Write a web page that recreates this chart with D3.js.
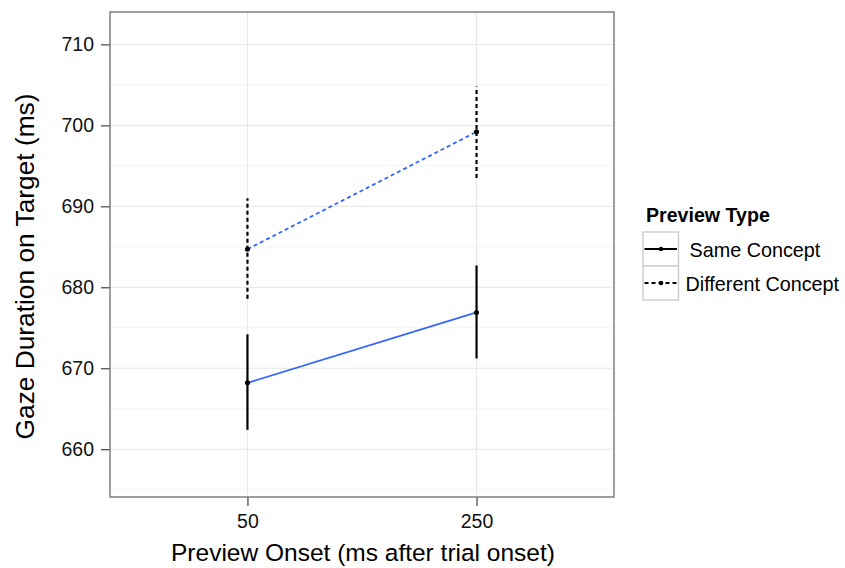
<!DOCTYPE html>
<html>
<head>
<meta charset="utf-8">
<script src="https://cdn.jsdelivr.net/npm/d3@7"></script>
<style>
  body { margin: 0; background: #fff; }
  text { font-family: "Liberation Sans", Arial, sans-serif; }
</style>
</head>
<body>
<div id="chart"></div>
<script>
// values
var onsets = ["50", "250"];
var previewTypes = ["Same Concept", "Different Concept"];
var sameMeans = [668.2, 676.9];
var sameLo = [662.4, 671.2];
var sameHi = [674.2, 682.7];
var diffMeans = [684.7, 699.2];
var diffLo = [678.6, 693.5];
var diffHi = [691.0, 704.8];
var yTicks = [660, 670, 680, 690, 700, 710];
var yMinor = [655, 665, 675, 685, 695, 705];

var series = [
  { name: previewTypes[0], means: sameMeans, lo: sameLo, hi: sameHi, dash: null },
  { name: previewTypes[1], means: diffMeans, lo: diffLo, hi: diffHi, dash: "4,3" }
];

var W = 845, H = 568,
    margin = { top: 12, left: 110, right: 231, bottom: 71 },
    width = W - margin.left - margin.right,
    height = H - margin.top - margin.bottom;

var svg = d3.select("#chart").append("svg")
  .attr("width", W)
  .attr("height", H);

var g = svg.append("g")
  .attr("transform", "translate(" + margin.left + "," + margin.top + ")");

// discrete x like ggplot: 0.6 of a step added either side
var xScale = d3.scalePoint()
  .domain(onsets)
  .range([width * 0.6 / 2.2, width * 1.6 / 2.2]);

var yScale = d3.scaleLinear()
  .domain([654.1, 714])
  .range([height, 0]);

// grid
g.selectAll(".minor")
  .data(yMinor)
  .enter().append("line")
  .attr("x1", 0).attr("x2", width)
  .attr("y1", d => yScale(d)).attr("y2", d => yScale(d))
  .attr("stroke", "#f4f4f4").attr("stroke-width", 1);

g.selectAll(".major")
  .data(yTicks)
  .enter().append("line")
  .attr("x1", 0).attr("x2", width)
  .attr("y1", d => yScale(d)).attr("y2", d => yScale(d))
  .attr("stroke", "#e6e6e6").attr("stroke-width", 1);

g.selectAll(".vmajor")
  .data(onsets)
  .enter().append("line")
  .attr("x1", d => xScale(d)).attr("x2", d => xScale(d))
  .attr("y1", 0).attr("y2", height)
  .attr("stroke", "#e6e6e6").attr("stroke-width", 1);

// axes
var yAxis = g.append("g")
  .call(d3.axisLeft(yScale).tickValues(yTicks).tickSize(9).tickPadding(7))
  .call(a => a.select(".domain").remove());
yAxis.selectAll("line").attr("stroke", "#333").attr("stroke-width", 1.1);
yAxis.selectAll("text").attr("font-size", 19.5).attr("fill", "#111")
  .style("font-family", "Liberation Sans, Arial, sans-serif");

var xAxis = g.append("g")
  .attr("transform", "translate(0," + height + ")")
  .call(d3.axisBottom(xScale).tickSize(9).tickPadding(8))
  .call(a => a.select(".domain").remove());
xAxis.selectAll("line").attr("stroke", "#333").attr("stroke-width", 1.1);
xAxis.selectAll("text").attr("font-size", 19.5).attr("fill", "#111")
  .style("font-family", "Liberation Sans, Arial, sans-serif");

// lines between means
var line = d3.line()
  .x((d, i) => xScale(onsets[i]))
  .y(d => yScale(d));

series.forEach(function(s) {
  g.append("path")
    .datum(s.means)
    .attr("d", line)
    .attr("fill", "none")
    .attr("stroke", "#3366FF")
    .attr("stroke-width", 1.8)
    .attr("stroke-dasharray", s.dash);

  g.selectAll(null)
    .data(onsets)
    .enter().append("line")
    .attr("x1", d => xScale(d)).attr("x2", d => xScale(d))
    .attr("y1", (d, i) => yScale(s.lo[i]))
    .attr("y2", (d, i) => yScale(s.hi[i]))
    .attr("stroke", "black")
    .attr("stroke-width", 2.2)
    .attr("stroke-dasharray", s.dash);

  g.selectAll(null)
    .data(onsets)
    .enter().append("circle")
    .attr("cx", d => xScale(d))
    .attr("cy", (d, i) => yScale(s.means[i]))
    .attr("r", 2.5)
    .attr("fill", "black");
});

// panel border
g.append("rect")
  .attr("width", width).attr("height", height)
  .attr("fill", "none")
  .attr("stroke", "#7f7f7f").attr("stroke-width", 1.5);

// axis titles
svg.append("text")
  .attr("x", 363)
  .attr("y", 561)
  .attr("text-anchor", "middle")
  .attr("font-size", 24.5)
  .text("Preview Onset (ms after trial onset)");

svg.append("text")
  .attr("transform", "translate(33.5,266.5) rotate(-90)")
  .attr("text-anchor", "middle")
  .attr("font-size", 26.3)
  .text("Gaze Duration on Target (ms)");

// legend
var legend = svg.append("g").attr("transform", "translate(643,232)");
legend.append("text")
  .attr("x", 3).attr("y", -10.5)
  .attr("font-size", 19.6).attr("font-weight", "bold")
  .text("Preview Type");

var key = legend.selectAll(".key")
  .data(series)
  .enter().append("g")
  .attr("transform", (d, i) => "translate(0," + (i * 34) + ")");

key.append("rect")
  .attr("width", 35.5).attr("height", 34)
  .attr("fill", "white")
  .attr("stroke", "#cccccc").attr("stroke-width", 1.4);

key.append("line")
  .attr("x1", 1.5).attr("x2", 34)
  .attr("y1", 17).attr("y2", 17)
  .attr("stroke", "black").attr("stroke-width", 2)
  .attr("stroke-dasharray", d => d.dash);

key.append("circle")
  .attr("cx", 18).attr("cy", 17).attr("r", 2.3).attr("fill", "black");

key.append("text")
  .attr("x", (d, i) => i === 0 ? 46.5 : 42.5)
  .attr("y", 24.5)
  .attr("font-size", 19.8)
  .text(d => d.name);
</script>
</body>
</html>
